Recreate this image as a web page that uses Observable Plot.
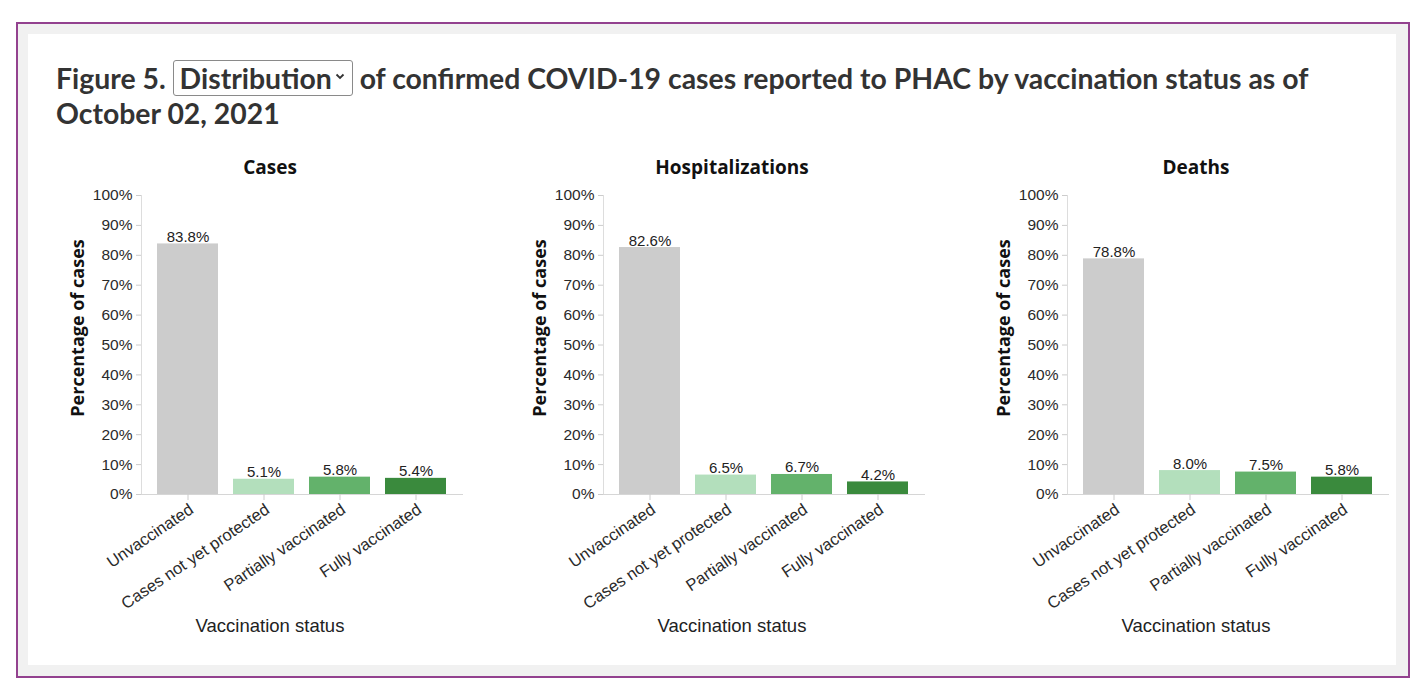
<!DOCTYPE html>
<html>
<head>
<meta charset="utf-8">
<script src="https://cdn.jsdelivr.net/npm/d3@7"></script>
<script src="https://cdn.jsdelivr.net/npm/@observablehq/plot@0.6"></script>
<style>
  html, body { margin: 0; padding: 0; background: #ffffff; width: 1426px; height: 699px; overflow: hidden; }
  #outer { position: absolute; left: 16px; top: 22px; width: 1394px; height: 656px; box-sizing: border-box;
           border: 2px solid #93428f; background: #f1f1f1; }
  #inner { position: absolute; left: 28px; top: 34px; width: 1368px; height: 631px; background: #ffffff; }
  #title { position: absolute; left: 56px; top: 60px; width: 1340px; margin: 0;
           font-family: Lato, "Open Sans", sans-serif; font-weight: 700; font-size: 28.4px; line-height: 34px; color: #333333; }
  #sel { display: inline-block; border: 1px solid #8a8a8a; border-radius: 3px; padding: 0 7px 0 6px; line-height: 34px; }
  #sel svg { vertical-align: middle; margin-left: 3px; position: relative; top: -5px; }
  .panel { position: absolute; top: 150px; }
</style>
</head>
<body>
<div id="outer"></div>
<div id="inner"></div>
<h1 id="title">Figure 5. <span id="sel">Distribution<svg width="10" height="7" viewBox="0 0 10 7"><path d="M1.5 1.5 L5 5 L8.5 1.5" fill="none" stroke="#333" stroke-width="1.8"/></svg></span> of confirmed COVID-19 cases reported to PHAC by vaccination status as of<br>October 02, 2021</h1>
<div id="p0" class="panel" style="left:51px"></div>
<div id="p1" class="panel" style="left:513px"></div>
<div id="p2" class="panel" style="left:977px"></div>
<script>
// ---- data ----
const categories = ["Unvaccinated", "Cases not yet protected", "Partially vaccinated", "Fully vaccinated"];
const panelTitles = ["Cases", "Hospitalizations", "Deaths"];
const casesValues = [83.8, 5.1, 5.8, 5.4];
const hospitalizationValues = [82.6, 6.5, 6.7, 4.2];
const deathValues = [78.8, 8.0, 7.5, 5.8];
const yTicks = [0, 10, 20, 30, 40, 50, 60, 70, 80, 90, 100];
const yAxisTitle = "Percentage of cases";
const xAxisTitle = "Vaccination status";
const statusColors = ["#cccccc", "#b3dfbc", "#63b26b", "#3a8a3d"];

function panel(title, values) {
  const data = categories.map((c, i) => ({status: c, value: values[i]}));
  return Plot.plot({
    width: 421,
    height: 495,
    marginLeft: 90,
    marginRight: 10,
    marginTop: 45,
    marginBottom: 151,
    style: {fontFamily: "'Liberation Sans', Arial, sans-serif", fontSize: "15px", color: "#333333", background: "transparent", overflow: "visible"},
    x: {domain: categories, padding: 0.2, axis: null},
    y: {domain: [0, 100], axis: null},
    color: {domain: categories, range: statusColors},
    marks: [
      Plot.barY(data, {x: "status", y: "value", fill: "status"}),
      Plot.frame({anchor: "left", stroke: "#dddddd"}),
      Plot.frame({anchor: "bottom", stroke: "#d6d6d6"}),
      Plot.axisY({ticks: yTicks, tickFormat: d => d + "%", tickSize: 5, tickPadding: 4, stroke: "#cccccc", fill: "#2a2a2a", fontSize: 15.5, label: null}),
      Plot.axisX({tickRotate: -34, tickSize: 6, tickPadding: 2, lineAnchor: "top", stroke: "#cccccc", fill: "#2a2a2a", fontSize: 16.5, label: null}),
      Plot.text(data, {x: "status", y: "value", text: d => d.value.toFixed(1) + "%", lineAnchor: "bottom", dy: -2, fontSize: 15, fill: "#222222"}),
      Plot.text([title], {frameAnchor: "top", textAnchor: "middle", lineAnchor: "middle", dx: -32, dy: -28,
                          fontFamily: "'Open Sans', sans-serif", fontWeight: "bold", fontSize: 19, fill: "#111111"}),
      Plot.text([yAxisTitle], {frameAnchor: "left", textAnchor: "middle", lineAnchor: "middle", rotate: -90, dx: -63, dy: -17,
                               fontFamily: "'Open Sans', sans-serif", fontWeight: "bold", fontSize: 18, fill: "#111111"}),
      Plot.text([xAxisTitle], {frameAnchor: "bottom", textAnchor: "middle", lineAnchor: "middle", dx: -32, dy: 132,
                               fontSize: 18.5, fill: "#222222"})
    ]
  });
}

const seriesList = [casesValues, hospitalizationValues, deathValues];
panelTitles.forEach((t, i) => {
  document.getElementById("p" + i).appendChild(panel(t, seriesList[i]));
});
</script>
</body>
</html>
